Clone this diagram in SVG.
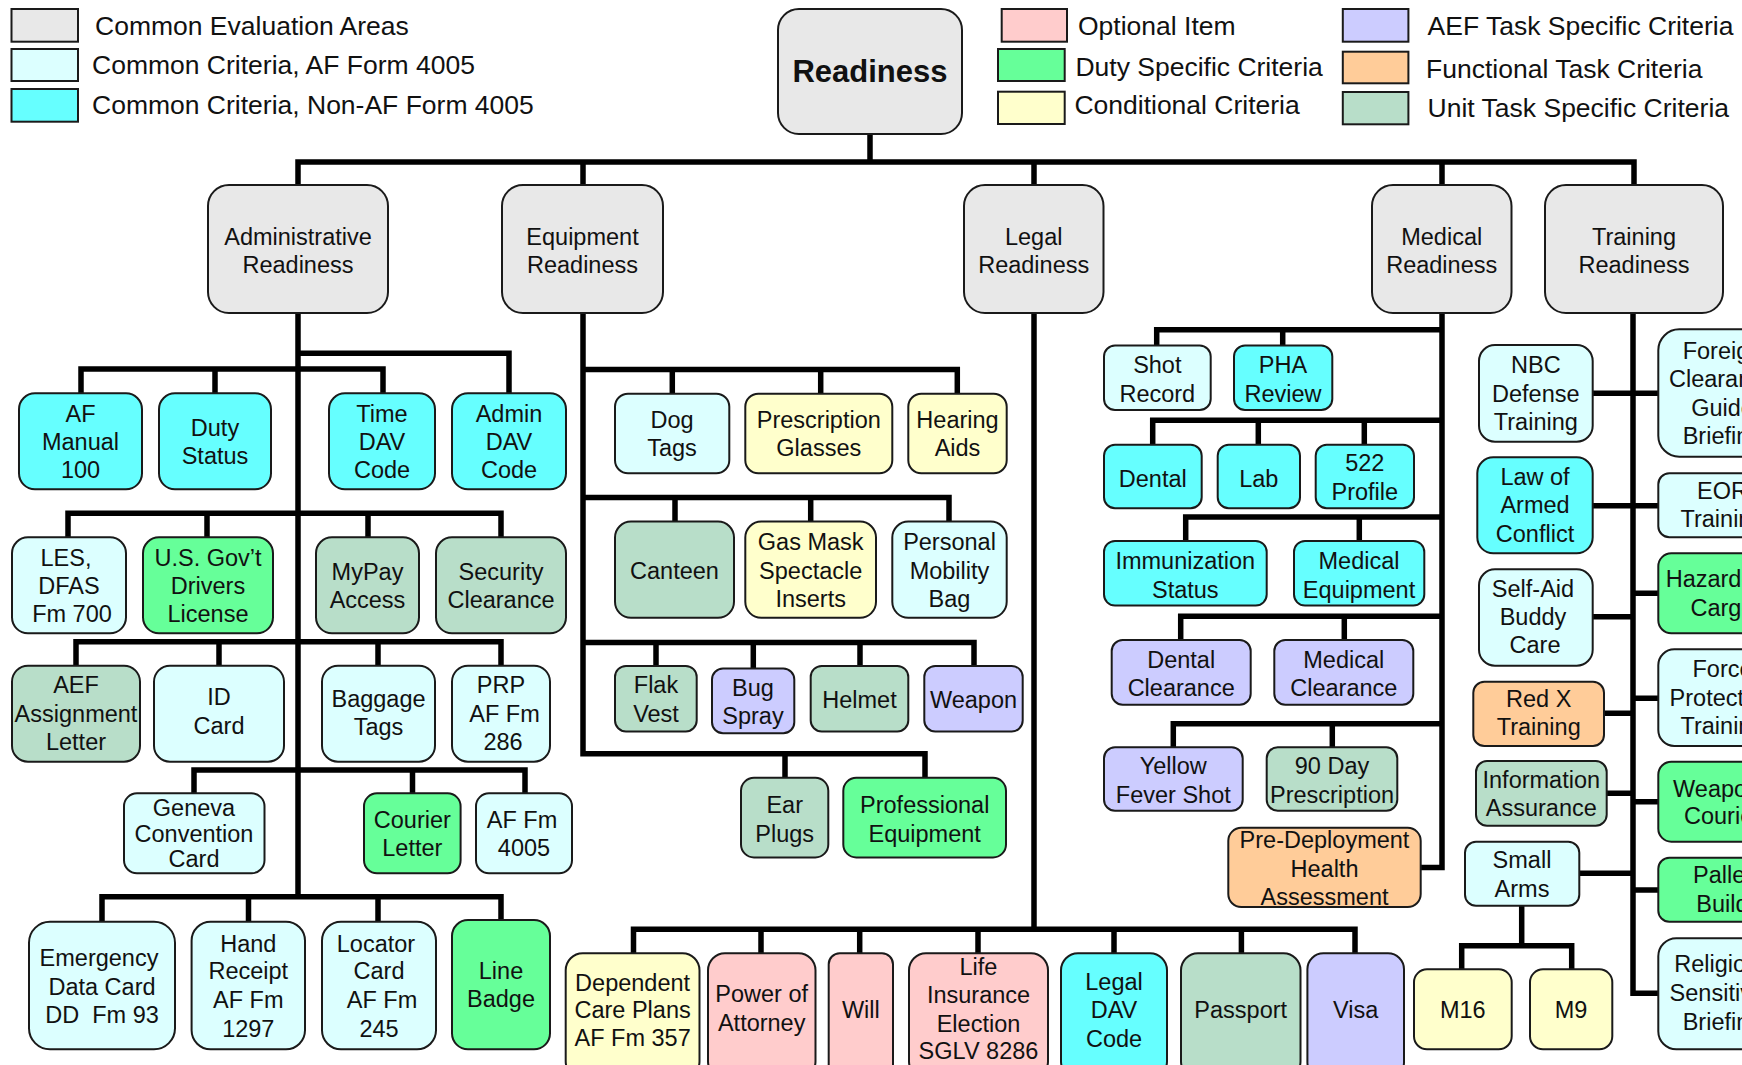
<svg xmlns="http://www.w3.org/2000/svg" width="1742" height="1065" viewBox="0 0 1742 1065">
<style>
.t{font-family:"Liberation Sans",Arial,sans-serif;font-size:23.5px;fill:#111;text-anchor:middle}
.lg{font-family:"Liberation Sans",Arial,sans-serif;font-size:26.5px;fill:#111}
.b{stroke:#1a1a1a;stroke-width:2}
.gray{fill:#e8e8e8}.lc{fill:#dcffff}.cy{fill:#66ffff}.gr{fill:#66ff99}.ye{fill:#ffffcc}
.pk{fill:#ffcccc}.lv{fill:#ccccff}.or{fill:#ffcc99}.ut{fill:#b8dec9}
.c{fill:none;stroke:#000;stroke-width:5.5;stroke-linejoin:miter}
</style>
<rect width="1742" height="1065" fill="#fff"/>
<g id="legend">
<rect class="b gray" x="11.5" y="9" width="66.5" height="32.7"/>
<rect class="b lc" x="11.5" y="49" width="66.5" height="32"/>
<rect class="b cy" x="11.5" y="89" width="66.5" height="32.7"/>
<text class="lg" x="95" y="35">Common Evaluation Areas</text>
<text class="lg" x="92" y="74">Common Criteria, AF Form 4005</text>
<text class="lg" x="92" y="114">Common Criteria, Non-AF Form 4005</text>
<rect class="b pk" x="1001.7" y="9" width="65.3" height="32.7"/>
<rect class="b gr" x="998" y="49" width="66.7" height="32"/>
<rect class="b ye" x="998" y="91.7" width="66.7" height="32.3"/>
<text class="lg" x="1078" y="35">Optional Item</text>
<text class="lg" x="1075.4" y="76">Duty Specific Criteria</text>
<text class="lg" x="1074.4" y="114">Conditional Criteria</text>
<rect class="b lv" x="1342.8" y="9" width="65.6" height="32.7"/>
<rect class="b or" x="1342.8" y="51.7" width="65.6" height="31.6"/>
<rect class="b ut" x="1342.8" y="92" width="65.6" height="32.3"/>
<text class="lg" x="1427.6" y="35">AEF Task Specific Criteria</text>
<text class="lg" x="1426" y="78">Functional Task Criteria</text>
<text class="lg" x="1427.6" y="116.7">Unit Task Specific Criteria</text>
</g>
<g id="connectors">
<path class="c" d="M870,134V162M298,185V162H1634V185M583,162V185M1034,162V185M1442,162V185"/>
<path class="c" d="M298,313V897M298,353.3H509V393.3M81,393.3V369H383V393.3M215,369V393.3M68,537.3V513.3H501V537.3M207,513.3V537.3M368,513.3V537.3M76,665.7V641.7H501V665.7M219,641.7V665.7M378,641.7V665.7M194,793.3V770H525V793.3M412.5,770V793.3M102,921.7V896.7H501V921.7M248.5,896.7V921.7M378,896.7V921.7"/>
<path class="c" d="M583,313V753.7H925V777.8M785,753.7V777.8M583,369.6H957.3V393.7M672.3,369.6V393.7M820.7,369.6V393.7M583,497.4H949V521.5M675,497.4V521.5M810.7,497.4V521.5M583,642.6H974V665.9M656,642.6V665.9M753.3,642.6V668.5M860,642.6V665.9"/>
<path class="c" d="M1034,313V929.3M633.5,953.3V929.3H1355V953.3M761,929.3V953.3M859.7,929.3V953.3M978,929.3V953.3M1114,929.3V953.3M1241.4,929.3V953.3"/>
<path class="c" d="M1442,313V867.5H1420.7M1156.7,345.6V329.8H1442M1282.7,329.8V345.6M1152.7,444.8V420.2H1442M1258.3,420.2V444.8M1364.3,420.2V444.8M1185.7,540.9V517.1H1442M1359.3,517.1V540.9M1180.7,640.1V616.3H1442M1344.3,616.3V640.1M1173.3,747.2V723.8H1442M1332.3,723.8V747.2"/>
<path class="c" d="M1633,313V993.3H1658.3M1592.7,393.3H1658.3M1592.7,505.7H1658.3M1633,593.3H1658.3M1592.7,616.7H1633M1633,698.3H1658.3M1604,713.3H1633M1606.7,793.3H1633M1633,801.7H1658.3M1579.3,873.3H1633M1633,890H1658.3M1521.7,905.7V945.7M1461.7,969.3V945.7H1571.7V969.3"/>
</g>
<g id="readiness"><rect class="b gray" x="778" y="9" width="184" height="125" rx="21"/><text class="t" x="870" y="82" style="font-weight:bold;font-size:31px">Readiness</text></g>
<g id="admin-readiness"><rect class="b gray" x="208" y="185" width="180" height="128" rx="21"/><text class="t"><tspan x="298" y="245">Administrative</tspan><tspan x="298" y="273.3">Readiness</tspan></text></g>
<g id="equipment-readiness"><rect class="b gray" x="502" y="185" width="161" height="128" rx="21"/><text class="t"><tspan x="582.5" y="245">Equipment</tspan><tspan x="582.5" y="273.3">Readiness</tspan></text></g>
<g id="legal-readiness"><rect class="b gray" x="964" y="185" width="139.5" height="128" rx="21"/><text class="t"><tspan x="1033.7" y="245">Legal</tspan><tspan x="1033.7" y="273.3">Readiness</tspan></text></g>
<g id="medical-readiness"><rect class="b gray" x="1372" y="185" width="139.5" height="128" rx="21"/><text class="t"><tspan x="1441.7" y="245">Medical</tspan><tspan x="1441.7" y="273.3">Readiness</tspan></text></g>
<g id="training-readiness"><rect class="b gray" x="1545" y="185" width="178" height="128" rx="21"/><text class="t"><tspan x="1634" y="245">Training</tspan><tspan x="1634" y="273.3">Readiness</tspan></text></g>

<g id="af-manual-100"><rect class="b cy" x="19" y="393.3" width="123" height="96" rx="16"/><text class="t"><tspan x="80.5" y="421.7">AF</tspan><tspan x="80.5" y="450">Manual</tspan><tspan x="80.5" y="478.3">100</tspan></text></g>
<g id="duty-status"><rect class="b cy" x="159" y="393.3" width="112" height="96" rx="16"/><text class="t"><tspan x="215" y="436">Duty</tspan><tspan x="215" y="464">Status</tspan></text></g>
<g id="time-dav-code"><rect class="b cy" x="329" y="393.3" width="106" height="96" rx="16"/><text class="t"><tspan x="382" y="421.7">Time</tspan><tspan x="382" y="450">DAV</tspan><tspan x="382" y="478.3">Code</tspan></text></g>
<g id="admin-dav-code"><rect class="b cy" x="452" y="393.3" width="114" height="96" rx="16"/><text class="t"><tspan x="509" y="421.7">Admin</tspan><tspan x="509" y="450">DAV</tspan><tspan x="509" y="478.3">Code</tspan></text></g>
<g id="les-dfas"><rect class="b lc" x="12" y="537.3" width="114" height="96" rx="16"/><text class="t"><tspan x="66" y="565.7">LES,</tspan><tspan x="69" y="594">DFAS</tspan><tspan x="72" y="622.3">Fm 700</tspan></text></g>
<g id="drivers-license"><rect class="b gr" x="143" y="537.3" width="130" height="96" rx="16"/><text class="t"><tspan x="208" y="565.7">U.S. Gov’t</tspan><tspan x="208" y="594">Drivers</tspan><tspan x="208" y="622.3">License</tspan></text></g>
<g id="mypay-access"><rect class="b ut" x="316" y="537.3" width="103" height="96" rx="16"/><text class="t"><tspan x="367.5" y="580">MyPay</tspan><tspan x="367.5" y="608.3">Access</tspan></text></g>
<g id="security-clearance"><rect class="b ut" x="436" y="537.3" width="130" height="96" rx="16"/><text class="t"><tspan x="501" y="580">Security</tspan><tspan x="501" y="608.3">Clearance</tspan></text></g>
<g id="aef-assignment-letter"><rect class="b ut" x="12" y="665.7" width="128" height="96" rx="16"/><text class="t"><tspan x="76" y="693.3">AEF</tspan><tspan x="76" y="721.7">Assignment</tspan><tspan x="76" y="750">Letter</tspan></text></g>
<g id="id-card"><rect class="b lc" x="154" y="665.7" width="130" height="96" rx="16"/><text class="t"><tspan x="219" y="705">ID</tspan><tspan x="219" y="734">Card</tspan></text></g>
<g id="baggage-tags"><rect class="b lc" x="322" y="665.7" width="113" height="96" rx="16"/><text class="t"><tspan x="378.5" y="706.7">Baggage</tspan><tspan x="378.5" y="735">Tags</tspan></text></g>
<g id="prp"><rect class="b lc" x="452" y="665.7" width="98" height="96" rx="16"/><text class="t"><tspan x="501" y="693.3">PRP</tspan><tspan x="504.5" y="721.7">AF Fm</tspan><tspan x="503" y="750">286</tspan></text></g>
<g id="geneva-card"><rect class="b lc" x="124" y="793.3" width="140.5" height="80" rx="13"/><text class="t"><tspan x="194" y="816">Geneva</tspan><tspan x="194" y="841.7">Convention</tspan><tspan x="194" y="867.3">Card</tspan></text></g>
<g id="courier-letter"><rect class="b gr" x="364" y="793.3" width="96.6" height="80" rx="13"/><text class="t"><tspan x="412.3" y="827.7">Courier</tspan><tspan x="412.3" y="856">Letter</tspan></text></g>
<g id="af-fm-4005"><rect class="b lc" x="476" y="793.3" width="96" height="80" rx="13"/><text class="t"><tspan x="522" y="827.7">AF Fm</tspan><tspan x="524" y="856">4005</tspan></text></g>
<g id="emergency-data-card"><rect class="b lc" x="29" y="921.7" width="146" height="127.6" rx="21"/><text class="t" xml:space="preserve"><tspan x="99" y="966">Emergency</tspan><tspan x="102" y="995">Data Card</tspan><tspan x="102" y="1022.7">DD  Fm 93</tspan></text></g>
<g id="hand-receipt"><rect class="b lc" x="191.6" y="921.7" width="113.4" height="127.6" rx="19"/><text class="t"><tspan x="248.3" y="951.7">Hand</tspan><tspan x="248.3" y="979.3">Receipt</tspan><tspan x="248.3" y="1008.3">AF Fm</tspan><tspan x="248.3" y="1036.7">1297</tspan></text></g>
<g id="locator-card"><rect class="b lc" x="322" y="921.7" width="114" height="127.6" rx="19"/><text class="t"><tspan x="376" y="951.7">Locator</tspan><tspan x="379" y="979.3">Card</tspan><tspan x="382" y="1008.3">AF Fm</tspan><tspan x="379" y="1036.7">245</tspan></text></g>
<g id="line-badge"><rect class="b gr" x="452" y="920" width="98" height="129.3" rx="16"/><text class="t"><tspan x="501" y="979.3">Line</tspan><tspan x="501" y="1006.7">Badge</tspan></text></g>

<g id="dog-tags"><rect class="b lc" x="615" y="393.7" width="114.3" height="79.6" rx="13"/><text class="t"><tspan x="672" y="427.8">Dog</tspan><tspan x="672" y="455.6">Tags</tspan></text></g>
<g id="prescription-glasses"><rect class="b ye" x="745.3" y="393.7" width="147" height="79.6" rx="13"/><text class="t"><tspan x="818.8" y="427.8">Prescription</tspan><tspan x="818.8" y="455.6">Glasses</tspan></text></g>
<g id="hearing-aids"><rect class="b ye" x="908.3" y="393.7" width="98.4" height="79.6" rx="13"/><text class="t"><tspan x="957.5" y="427.8">Hearing</tspan><tspan x="957.5" y="455.6">Aids</tspan></text></g>
<g id="canteen"><rect class="b ut" x="615" y="521.5" width="119" height="96.3" rx="16"/><text class="t" x="674.5" y="578.5">Canteen</text></g>
<g id="gas-mask-inserts"><rect class="b ye" x="745.3" y="521.5" width="130.7" height="96.3" rx="16"/><text class="t"><tspan x="810.7" y="550">Gas Mask</tspan><tspan x="810.7" y="578.5">Spectacle</tspan><tspan x="810.7" y="606.7">Inserts</tspan></text></g>
<g id="personal-mobility-bag"><rect class="b lc" x="892.3" y="521.5" width="114.4" height="96.3" rx="16"/><text class="t"><tspan x="949.5" y="550">Personal</tspan><tspan x="949.5" y="578.5">Mobility</tspan><tspan x="949.5" y="606.7">Bag</tspan></text></g>
<g id="flak-vest"><rect class="b ut" x="615" y="665.9" width="81.7" height="65.6" rx="11"/><text class="t"><tspan x="656" y="692.6">Flak</tspan><tspan x="656" y="722.2">Vest</tspan></text></g>
<g id="bug-spray"><rect class="b lv" x="712" y="668.5" width="82.3" height="64.8" rx="11"/><text class="t"><tspan x="753" y="696.3">Bug</tspan><tspan x="753" y="724">Spray</tspan></text></g>
<g id="helmet"><rect class="b ut" x="810.7" y="665.9" width="97.6" height="65.6" rx="11"/><text class="t" x="859.5" y="708.1">Helmet</text></g>
<g id="weapon"><rect class="b lv" x="924.3" y="665.9" width="98.4" height="65.6" rx="11"/><text class="t" x="973.5" y="708.1">Weapon</text></g>
<g id="ear-plugs"><rect class="b ut" x="741" y="777.8" width="87.3" height="79.6" rx="13"/><text class="t"><tspan x="784.7" y="813">Ear</tspan><tspan x="784.7" y="841.5">Plugs</tspan></text></g>
<g id="professional-equipment"><rect class="b gr" x="843.3" y="777.8" width="162.7" height="79.6" rx="13"/><text class="t"><tspan x="924.7" y="813">Professional</tspan><tspan x="924.7" y="841.5">Equipment</tspan></text></g>

<g id="dependent-care-plans"><rect class="b ye" x="565.7" y="953.3" width="133.8" height="125" rx="17"/><text class="t"><tspan x="632.6" y="990.7">Dependent</tspan><tspan x="632.6" y="1018">Care Plans</tspan><tspan x="632.6" y="1046">AF Fm 357</tspan></text></g>
<g id="power-of-attorney"><rect class="b pk" x="708" y="953.3" width="107.5" height="125" rx="17"/><text class="t"><tspan x="761.7" y="1001.7">Power of</tspan><tspan x="761.7" y="1031">Attorney</tspan></text></g>
<g id="will"><rect class="b pk" x="828.7" y="953.3" width="64.3" height="125" rx="11"/><text class="t" x="860.8" y="1018">Will</text></g>
<g id="life-insurance"><rect class="b pk" x="909" y="953.3" width="139" height="125" rx="17"/><text class="t"><tspan x="978.5" y="975">Life</tspan><tspan x="978.5" y="1003">Insurance</tspan><tspan x="978.5" y="1031.7">Election</tspan><tspan x="978.5" y="1059">SGLV 8286</tspan></text></g>
<g id="legal-dav-code"><rect class="b cy" x="1061" y="953.3" width="106" height="125" rx="17"/><text class="t"><tspan x="1114" y="990">Legal</tspan><tspan x="1114" y="1018">DAV</tspan><tspan x="1114" y="1046.7">Code</tspan></text></g>
<g id="passport"><rect class="b ut" x="1181" y="953.3" width="119.5" height="125" rx="17"/><text class="t" x="1240.7" y="1018">Passport</text></g>
<g id="visa"><rect class="b lv" x="1307.4" y="953.3" width="96.6" height="125" rx="16"/><text class="t" x="1355.7" y="1018">Visa</text></g>

<g id="shot-record"><rect class="b lc" x="1104" y="345.6" width="106.7" height="64.3" rx="11"/><text class="t"><tspan x="1157.3" y="373.4">Shot</tspan><tspan x="1157.3" y="402.4">Record</tspan></text></g>
<g id="pha-review"><rect class="b cy" x="1234" y="345.6" width="98.3" height="64.3" rx="11"/><text class="t"><tspan x="1283" y="373.4">PHA</tspan><tspan x="1283" y="402.4">Review</tspan></text></g>
<g id="dental"><rect class="b cy" x="1104" y="444.8" width="97.7" height="63.5" rx="11"/><text class="t" x="1152.8" y="486.5">Dental</text></g>
<g id="lab"><rect class="b cy" x="1217.7" y="444.8" width="82.3" height="63.5" rx="11"/><text class="t" x="1258.8" y="486.5">Lab</text></g>
<g id="profile-522"><rect class="b cy" x="1315.7" y="444.8" width="98.3" height="63.5" rx="11"/><text class="t"><tspan x="1364.8" y="471.4">522</tspan><tspan x="1364.8" y="500.4">Profile</tspan></text></g>
<g id="immunization-status"><rect class="b cy" x="1104" y="540.9" width="162.7" height="64.7" rx="11"/><text class="t"><tspan x="1185.3" y="569">Immunization</tspan><tspan x="1185.3" y="597.6">Status</tspan></text></g>
<g id="medical-equipment"><rect class="b cy" x="1294" y="540.9" width="130.3" height="64.7" rx="11"/><text class="t"><tspan x="1359" y="569">Medical</tspan><tspan x="1359" y="597.6">Equipment</tspan></text></g>
<g id="dental-clearance"><rect class="b lv" x="1111.7" y="640.1" width="139" height="64.7" rx="11"/><text class="t"><tspan x="1181.2" y="668.3">Dental</tspan><tspan x="1181.2" y="696">Clearance</tspan></text></g>
<g id="medical-clearance"><rect class="b lv" x="1274.3" y="640.1" width="139" height="64.7" rx="11"/><text class="t"><tspan x="1343.8" y="668.3">Medical</tspan><tspan x="1343.8" y="696">Clearance</tspan></text></g>
<g id="yellow-fever-shot"><rect class="b lv" x="1104" y="747.2" width="138.7" height="63.5" rx="11"/><text class="t"><tspan x="1173.3" y="774.2">Yellow</tspan><tspan x="1173.3" y="803.2">Fever Shot</tspan></text></g>
<g id="ninety-day-prescription"><rect class="b ut" x="1266.7" y="747.2" width="130.6" height="63.5" rx="11"/><text class="t"><tspan x="1332" y="774.2">90 Day</tspan><tspan x="1332" y="803.2">Prescription</tspan></text></g>
<g id="pre-deployment"><rect class="b or" x="1228.3" y="827.8" width="192.4" height="79.3" rx="13"/><text class="t"><tspan x="1324.5" y="847.6">Pre-Deployment</tspan><tspan x="1324.5" y="877.4">Health</tspan><tspan x="1324.5" y="905.2">Assessment</tspan></text></g>

<g id="nbc-defense-training"><rect class="b lc" x="1479" y="345" width="113.7" height="96.7" rx="16"/><text class="t"><tspan x="1535.8" y="373.3">NBC</tspan><tspan x="1535.8" y="401.7">Defense</tspan><tspan x="1535.8" y="430">Training</tspan></text></g>
<g id="law-of-armed-conflict"><rect class="b cy" x="1477.3" y="457.3" width="115.4" height="96" rx="16"/><text class="t"><tspan x="1535" y="485">Law of</tspan><tspan x="1535" y="513.3">Armed</tspan><tspan x="1535" y="541.7">Conflict</tspan></text></g>
<g id="self-aid-buddy-care"><rect class="b lc" x="1479" y="569.3" width="113.7" height="96.4" rx="16"/><text class="t"><tspan x="1533" y="596.7">Self-Aid</tspan><tspan x="1533" y="625">Buddy</tspan><tspan x="1535" y="653.3">Care</tspan></text></g>
<g id="red-x-training"><rect class="b or" x="1473.3" y="681.7" width="130.7" height="64.3" rx="11"/><text class="t"><tspan x="1538.7" y="707.3">Red X</tspan><tspan x="1538.7" y="735">Training</tspan></text></g>
<g id="information-assurance"><rect class="b ut" x="1476" y="761" width="130.7" height="64.7" rx="11"/><text class="t"><tspan x="1541.3" y="788.3">Information</tspan><tspan x="1541.3" y="816">Assurance</tspan></text></g>
<g id="small-arms"><rect class="b lc" x="1465" y="841.7" width="114.3" height="64" rx="11"/><text class="t"><tspan x="1522" y="868.3">Small</tspan><tspan x="1522" y="896.7">Arms</tspan></text></g>
<g id="m16"><rect class="b ye" x="1414" y="969.3" width="97.7" height="80" rx="13"/><text class="t" x="1462.8" y="1018.3">M16</text></g>
<g id="m9"><rect class="b ye" x="1530" y="969.3" width="82.3" height="80" rx="13"/><text class="t" x="1571" y="1018.3">M9</text></g>
<g id="foreign-clearance-guide"><rect class="b lc" x="1658.3" y="329.3" width="128" height="127.4" rx="21"/><text class="t"><tspan x="1722.5" y="359.3">Foreign</tspan><tspan x="1722.5" y="387.3">Clearance</tspan><tspan x="1722.5" y="416">Guide</tspan><tspan x="1722.5" y="444">Briefing</tspan></text></g>
<g id="eor-training"><rect class="b lc" x="1658.3" y="473.3" width="128" height="64" rx="11"/><text class="t"><tspan x="1722.5" y="499.3">EOR</tspan><tspan x="1722.5" y="527.3">Training</tspan></text></g>
<g id="hazardous-cargo"><rect class="b gr" x="1658.3" y="553.3" width="128" height="80" rx="13"/><text class="t"><tspan x="1722.5" y="587.3">Hazardous</tspan><tspan x="1722.5" y="616">Cargo</tspan></text></g>
<g id="force-protection-training"><rect class="b lc" x="1658.3" y="649.3" width="128" height="96.7" rx="16"/><text class="t"><tspan x="1722.5" y="677">Force</tspan><tspan x="1722.5" y="705.5">Protection</tspan><tspan x="1722.5" y="734">Training</tspan></text></g>
<g id="weapons-courier"><rect class="b gr" x="1658.3" y="761.7" width="128" height="80" rx="13"/><text class="t"><tspan x="1722.5" y="796.7">Weapons</tspan><tspan x="1722.5" y="824">Courier</tspan></text></g>
<g id="pallet-build"><rect class="b gr" x="1658.3" y="857.7" width="128" height="64" rx="11"/><text class="t"><tspan x="1722.5" y="883.3">Pallet</tspan><tspan x="1722.5" y="911.7">Build</tspan></text></g>
<g id="religious-sensitivity-briefing"><rect class="b lc" x="1658.3" y="938.3" width="128" height="111" rx="18"/><text class="t"><tspan x="1722.5" y="972">Religious</tspan><tspan x="1722.5" y="1001">Sensitivity</tspan><tspan x="1722.5" y="1030">Briefing</tspan></text></g>
</svg>
